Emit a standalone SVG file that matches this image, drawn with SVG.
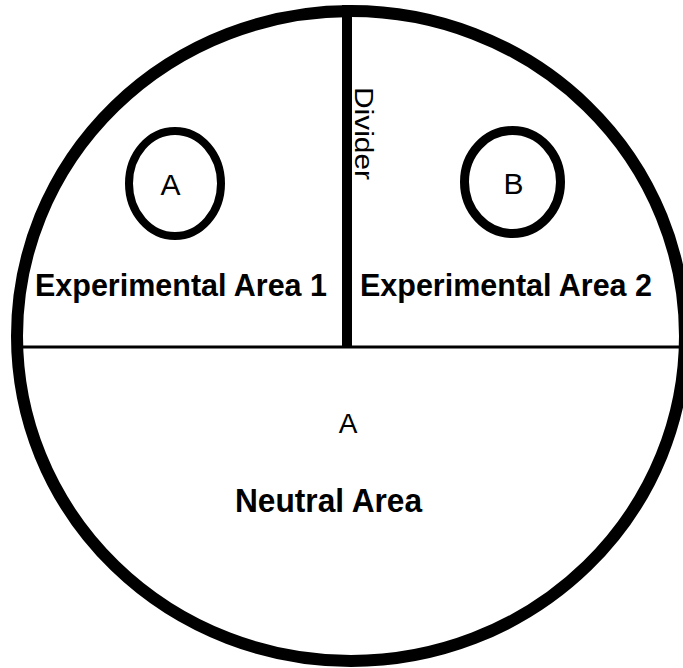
<svg xmlns="http://www.w3.org/2000/svg" width="683" height="668" viewBox="0 0 683 668">
<style>
.ln{fill:none;stroke:#000}
.t{font-family:"Liberation Sans",Arial,sans-serif;fill:#000}
.b{font-weight:bold}
</style>
<rect width="683" height="668" fill="#fff"/>
<g id="arena">
<ellipse class="ln" cx="351" cy="336" rx="334" ry="325" stroke-width="12"/>
</g>
<g id="connectors">
<line class="ln" x1="14" y1="347" x2="683" y2="347" stroke-width="3"/>
<line class="ln" x1="347" y1="5" x2="347" y2="347" stroke-width="10"/>
</g>
<g id="divider-label">
<text class="t" transform="translate(355,87) rotate(90)" font-size="26" textLength="93" lengthAdjust="spacingAndGlyphs">Divider</text>
</g>
<g id="object-a">
<ellipse class="ln" cx="175" cy="183.5" rx="46" ry="52.5" stroke-width="8"/>
<text class="t" x="170.5" y="195" font-size="30" text-anchor="middle">A</text>
</g>
<g id="object-b">
<ellipse class="ln" cx="512.5" cy="182" rx="48" ry="51.5" stroke-width="9"/>
<text class="t" x="513.5" y="194" font-size="30" text-anchor="middle">B</text>
</g>
<g id="area1">
<text class="t b" x="35" y="296" font-size="31" textLength="292" lengthAdjust="spacingAndGlyphs">Experimental Area 1</text>
</g>
<g id="area2">
<text class="t b" x="360" y="296" font-size="31" textLength="292" lengthAdjust="spacingAndGlyphs">Experimental Area 2</text>
</g>
<g id="neutral">
<text class="t" x="348" y="433" font-size="28" text-anchor="middle">A</text>
<text class="t b" x="235" y="512" font-size="33" textLength="187" lengthAdjust="spacingAndGlyphs">Neutral Area</text>
</g>
</svg>
